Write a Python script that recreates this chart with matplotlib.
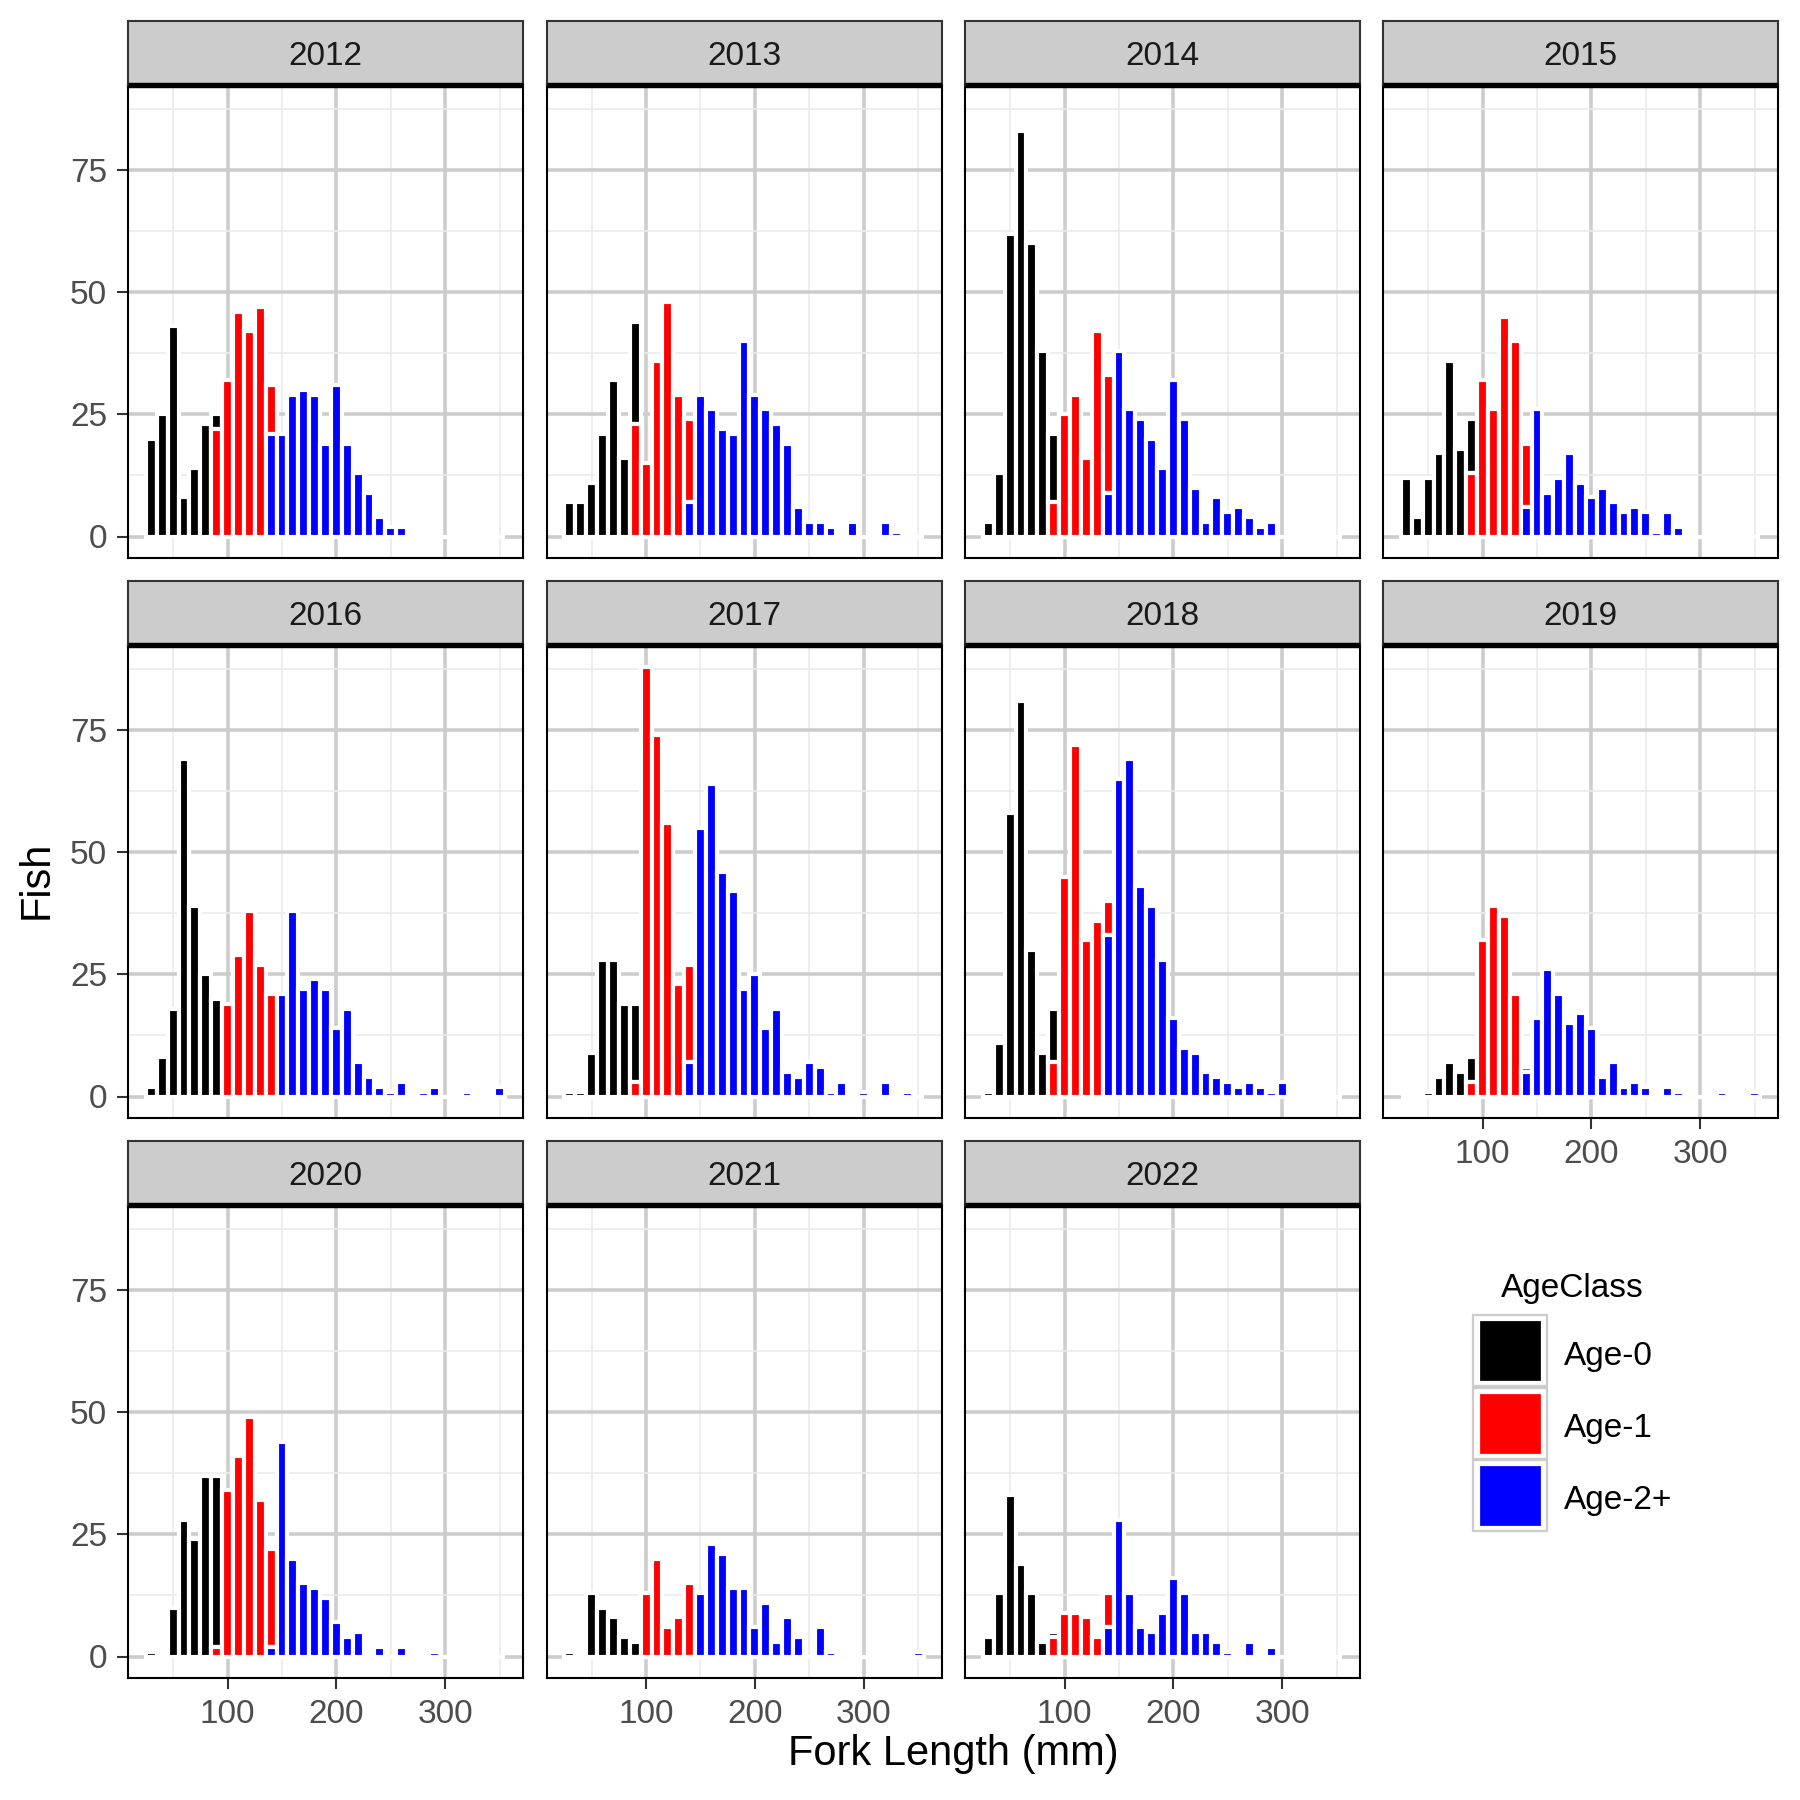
import matplotlib.pyplot as plt
import numpy as np
from matplotlib.patches import Rectangle
from matplotlib.ticker import MultipleLocator

plt.rcParams['font.family'] = ['Liberation Sans', 'DejaVu Sans']

years = [2012, 2013, 2014, 2015, 2016, 2017, 2018, 2019, 2020, 2021, 2022]
classes = ['Age-0', 'Age-1', 'Age-2+']
colors = ['black', 'red', 'blue']

# bin centres (mm) used by each age class
bins_age0 = np.arange(30, 91, 10)
bins_age1 = np.arange(90, 141, 10)
bins_age2 = np.arange(140, 351, 10)

# counts per bin
age0 = {
    2012: [20, 25, 43, 8, 14, 23, 3],
    2013: [7, 7, 11, 21, 32, 16, 21],
    2014: [3, 13, 62, 83, 60, 38, 14],
    2015: [12, 4, 12, 17, 36, 18, 11],
    2016: [2, 8, 18, 69, 39, 25, 20],
    2017: [1, 1, 9, 28, 28, 19, 16],
    2018: [1, 11, 58, 81, 30, 9, 11],
    2019: [0, 0, 1, 4, 7, 5, 5],
    2020: [1, 0, 10, 28, 24, 37, 35],
    2021: [1, 0, 13, 10, 8, 4, 3],
    2022: [4, 13, 33, 19, 13, 3, 1],
}
age1 = {
    2012: [22, 32, 46, 42, 47, 10],
    2013: [23, 15, 36, 48, 29, 17],
    2014: [7, 25, 29, 16, 42, 24],
    2015: [13, 32, 26, 45, 40, 13],
    2016: [0, 19, 29, 38, 27, 21],
    2017: [3, 88, 74, 56, 23, 20],
    2018: [7, 45, 72, 32, 36, 7],
    2019: [3, 32, 39, 37, 21, 1],
    2020: [2, 34, 41, 49, 32, 20],
    2021: [0, 13, 20, 6, 8, 15],
    2022: [4, 9, 9, 8, 4, 7],
}
age2 = {
    2012: [21, 21, 29, 30, 29, 19, 31, 19, 13, 9, 4, 2, 2, 0, 0, 0, 0, 0, 0, 0, 0, 0],
    2013: [7, 29, 26, 22, 21, 40, 29, 26, 23, 19, 6, 3, 3, 2, 0, 3, 0, 0, 3, 1, 0, 0],
    2014: [9, 38, 26, 24, 20, 14, 32, 24, 10, 3, 8, 5, 6, 4, 2, 3, 0, 0, 0, 0, 0, 0],
    2015: [6, 26, 9, 12, 17, 11, 8, 10, 7, 5, 6, 5, 1, 5, 2, 0, 0, 0, 0, 0, 0, 0],
    2016: [0, 21, 38, 22, 24, 22, 14, 18, 7, 4, 2, 1, 3, 0, 1, 2, 0, 0, 1, 0, 0, 2],
    2017: [7, 55, 64, 46, 42, 22, 25, 14, 18, 5, 4, 7, 6, 1, 3, 0, 1, 0, 3, 0, 1, 0],
    2018: [33, 65, 69, 43, 39, 28, 16, 10, 9, 5, 4, 3, 2, 3, 2, 1, 3, 0, 0, 0, 0, 0],
    2019: [5, 16, 26, 21, 15, 17, 14, 4, 7, 2, 3, 2, 0, 2, 1, 0, 0, 0, 1, 0, 0, 1],
    2020: [2, 44, 20, 15, 14, 12, 7, 4, 5, 0, 2, 0, 2, 0, 0, 1, 0, 0, 0, 0, 0, 0],
    2021: [0, 13, 23, 21, 14, 14, 6, 11, 3, 8, 4, 0, 6, 1, 0, 0, 0, 0, 0, 0, 0, 1],
    2022: [6, 28, 13, 6, 5, 9, 16, 13, 5, 5, 3, 1, 0, 3, 0, 2, 0, 0, 0, 0, 0, 0],
}

W = 1800.0
fig = plt.figure(figsize=(6, 6), dpi=300)


def px_axes(left, top, w, h):
    return fig.add_axes([left / W, 1 - (top + h) / W, w / W, h / W])


centres = np.arange(30, 351, 10)
col_left = [128, 546.5, 965, 1383]
panel_top = [85, 645, 1205]
pw, ph, sh = 395, 473, 64

for k, yr in enumerate(years):
    r, c = divmod(k, 4)
    ax = px_axes(col_left[c], panel_top[r], pw, ph)

    full = []
    for b, d in zip([bins_age0, bins_age1, bins_age2], [age0, age1, age2]):
        g = np.zeros(len(centres))
        g[np.searchsorted(centres, b)] = d[yr]
        full.append(g)
    bottoms = [full[1] + full[2], full[2], np.zeros(len(centres))]
    for b, g, bot, col in zip([bins_age0, bins_age1, bins_age2], full, bottoms, colors):
        idx = np.searchsorted(centres, b)
        ax.bar(centres[idx], g[idx], width=10, bottom=bot[idx], color=col,
               edgecolor='white', linewidth=1.0, zorder=2)

    ax.set_xlim(8.5, 371.5)
    ax.set_ylim(-4.4, 92.4)
    ax.set_xticks([100, 200, 300])
    ax.set_yticks([0, 25, 50, 75])
    ax.xaxis.set_minor_locator(MultipleLocator(50))
    ax.yaxis.set_minor_locator(MultipleLocator(12.5))
    ax.set_axisbelow(True)
    ax.grid(which='major', color='#CCCCCC', linewidth=0.85)
    ax.grid(which='minor', color='#EBEBEB', linewidth=0.4)
    for s in ax.spines.values():
        s.set_color('black')
        s.set_linewidth(0.5)
    ax.tick_params(which='minor', length=0)
    ax.tick_params(which='major', length=2.6, width=0.5, color='#333333',
                   labelsize=8, labelcolor='#4D4D4D', pad=2.4)
    show_x = (r == 2) or (yr == 2019)
    show_y = (c == 0)
    ax.tick_params(axis='x', bottom=show_x, labelbottom=show_x)
    ax.tick_params(axis='y', left=show_y, labelleft=show_y)

    st = px_axes(col_left[c], panel_top[r] - sh, pw, sh)
    st.set_facecolor('#CCCCCC')
    st.set_xticks([])
    st.set_yticks([])
    for s in st.spines.values():
        s.set_color('#333333')
        s.set_linewidth(0.5)
    st.spines['bottom'].set_color('black')
    st.spines['bottom'].set_linewidth(1.3)
    st.spines['bottom'].set_capstyle('butt')
    st.text(0.5, 0.44, str(yr), transform=st.transAxes, ha='center', va='center',
            fontsize=8, color='#1A1A1A')

fig.text(953 / W, 1 - 1754 / W, 'Fork Length (mm)', ha='center', va='center', fontsize=10)
fig.text(37 / W, 1 - 880 / W, 'Fish', ha='center', va='center', rotation=90, fontsize=10)

# legend
lg = fig.add_axes([0, 0, 1, 1])
lg.set_xlim(0, W)
lg.set_ylim(W, 0)
lg.axis('off')
lg.text(1572, 1289, 'AgeClass', ha='center', va='center', fontsize=8)
for i, (lab, col) in enumerate(zip(classes, colors)):
    top = 1315 + i * 72.5
    lg.add_patch(Rectangle((1473, top), 74, 71, facecolor='white',
                           edgecolor='#CCCCCC', linewidth=0.55))
    lg.add_patch(Rectangle((1479, top + 5), 62, 61, facecolor=col,
                           edgecolor='white', linewidth=0.3))
    lg.text(1564, top + 41, lab, ha='left', va='center', fontsize=8)

fig.savefig('out.png', dpi=300)
